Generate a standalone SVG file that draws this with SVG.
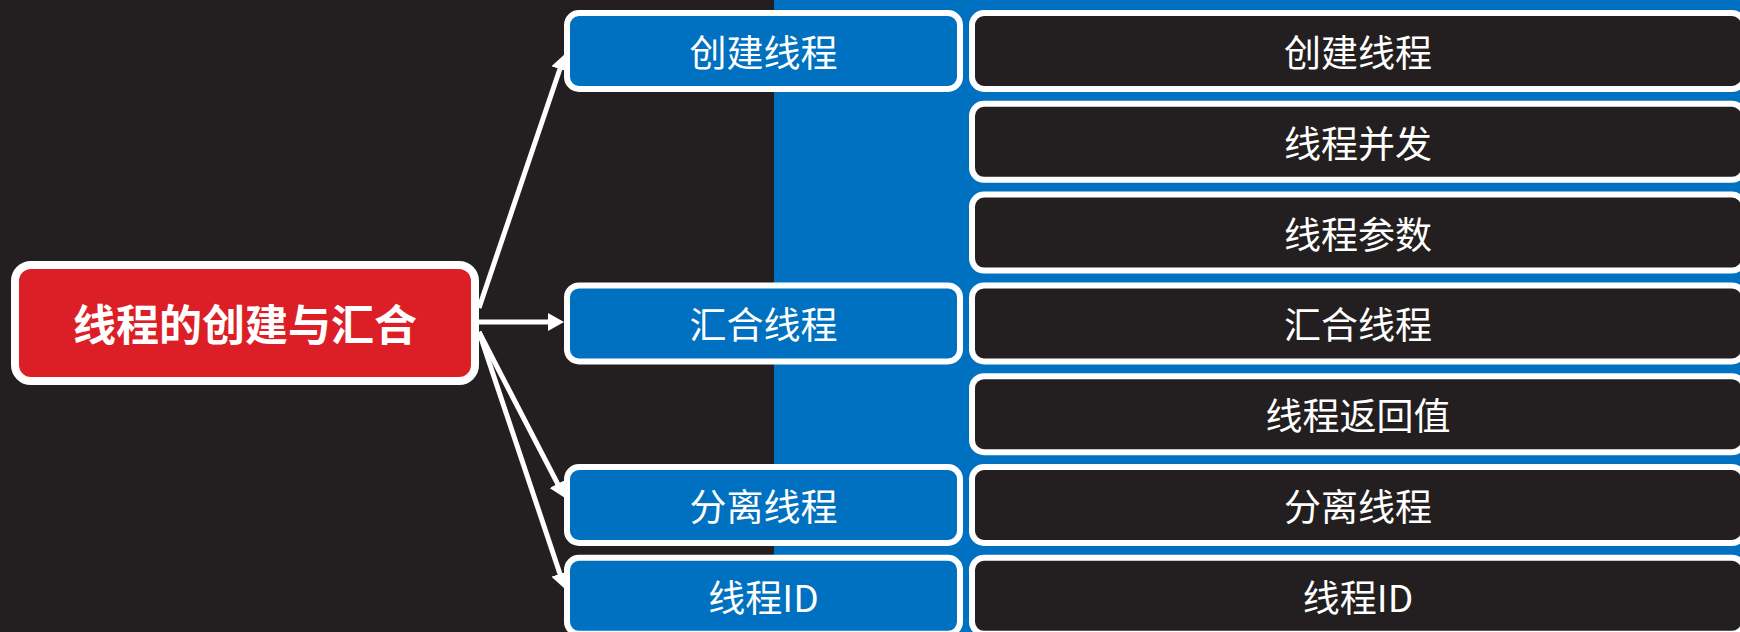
<svg xmlns="http://www.w3.org/2000/svg" width="1740" height="632" viewBox="0 0 1740 632">
<style>
.bg-dark{fill:#231F20}
.bg-blue{fill:#0070C0}
.root rect{fill:#DC1F26;stroke:#FFFFFF;stroke-width:8}
.mid rect{fill:#0070C0;stroke:#FFFFFF;stroke-width:6}
.leaf rect{fill:#231F20;stroke:#FFFFFF;stroke-width:6}
text{fill:#FFFFFF;font-family:"Noto Sans CJK SC","Noto Sans",sans-serif;text-anchor:middle;dominant-baseline:central}
.root text{font-size:43px;font-weight:bold}
.mid text,.leaf text{font-size:37px}
.conn line{stroke:#FFFFFF;stroke-width:5;fill:none}
</style>
<defs>
<marker id="arrow" markerUnits="userSpaceOnUse" markerWidth="16" markerHeight="18" refX="2" refY="9" orient="auto" viewBox="0 0 16 18">
<path d="M0,0 L16,9 L0,18 z" fill="#FFFFFF"/>
</marker>
</defs>
<rect class="bg-dark" x="0" y="0" width="1740" height="632"/>
<rect class="bg-blue" x="774" y="0" width="966" height="632"/>

<g class="conn" id="connectors">
<line x1="479" y1="308" x2="560.5" y2="67.3" marker-end="url(#arrow)"/>
<line x1="479" y1="322" x2="550" y2="322" marker-end="url(#arrow)"/>
<line x1="479" y1="332" x2="558.6" y2="485.6" marker-end="url(#arrow)"/>
<line x1="479" y1="332" x2="560.6" y2="575.7" marker-end="url(#arrow)"/>
</g>

<g class="root" id="node-root">
<rect x="15" y="265" width="460" height="116" rx="16"/>
<text x="245" y="322">线程的创建与汇合</text>
</g>

<g class="mid" id="node-create">
<rect x="567" y="13" width="393" height="76" rx="12"/>
<text x="763.5" y="51">创建线程</text>
</g>
<g class="mid" id="node-join">
<rect x="567" y="285.4" width="393" height="76" rx="12"/>
<text x="763.5" y="323.4">汇合线程</text>
</g>
<g class="mid" id="node-detach">
<rect x="567" y="467" width="393" height="76" rx="12"/>
<text x="763.5" y="505">分离线程</text>
</g>
<g class="mid" id="node-id">
<rect x="567" y="557.8" width="393" height="76" rx="12"/>
<text x="763.5" y="595.8">线程ID</text>
</g>

<g class="leaf" id="leaf-1">
<rect x="972" y="13" width="772" height="76" rx="12"/>
<text x="1358" y="51">创建线程</text>
</g>
<g class="leaf" id="leaf-2">
<rect x="972" y="103.8" width="772" height="76" rx="12"/>
<text x="1358" y="141.8">线程并发</text>
</g>
<g class="leaf" id="leaf-3">
<rect x="972" y="194.6" width="772" height="76" rx="12"/>
<text x="1358" y="232.6">线程参数</text>
</g>
<g class="leaf" id="leaf-4">
<rect x="972" y="285.4" width="772" height="76" rx="12"/>
<text x="1358" y="323.4">汇合线程</text>
</g>
<g class="leaf" id="leaf-5">
<rect x="972" y="376.2" width="772" height="76" rx="12"/>
<text x="1358" y="414.2">线程返回值</text>
</g>
<g class="leaf" id="leaf-6">
<rect x="972" y="467" width="772" height="76" rx="12"/>
<text x="1358" y="505">分离线程</text>
</g>
<g class="leaf" id="leaf-7">
<rect x="972" y="557.8" width="772" height="76" rx="12"/>
<text x="1358" y="595.8">线程ID</text>
</g>
</svg>
